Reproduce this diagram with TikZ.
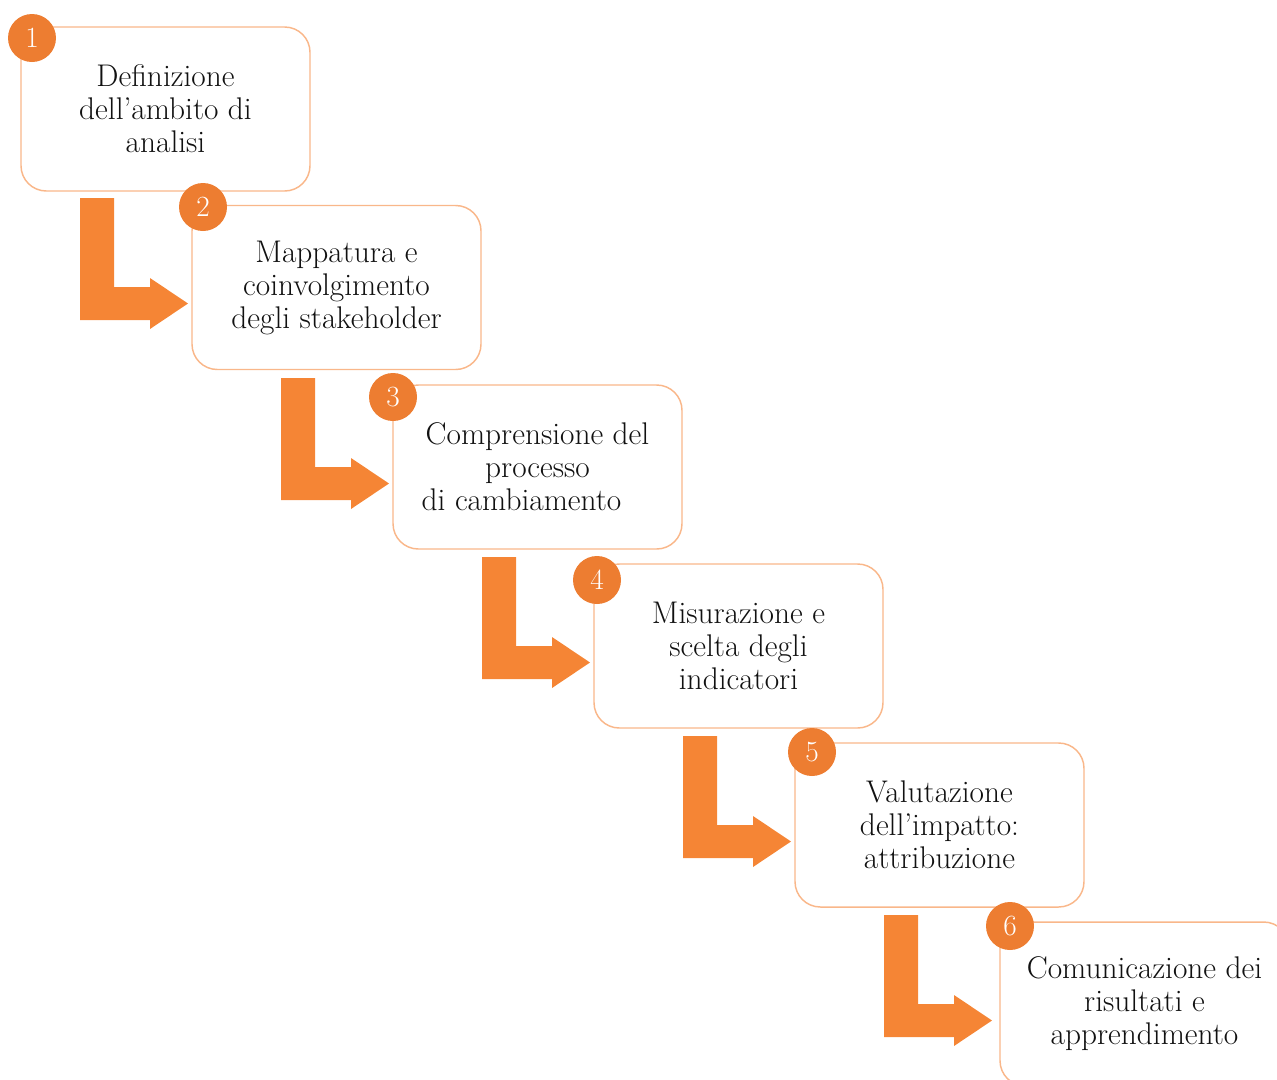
\documentclass[tikz,border=0pt]{standalone}
\usepackage{fontspec}
\definecolor{badge}{HTML}{ED7D31}
\definecolor{arrowc}{HTML}{F58535}
\definecolor{boxline}{HTML}{F9B78A}
\definecolor{txt}{HTML}{111111}
\tikzset{bentarrow/.pic={\fill[arrowc] (0,0) -- (34,0) -- (34,89) -- (70,89) -- (70,80) -- (108,105.5) -- (70,131) -- (70,122) -- (0,122) -- cycle;}}
\begin{document}
\begin{tikzpicture}[x=0.75pt,y=-0.75pt,
 stepbox/.style={draw=boxline, line width=1.1pt, rounded corners=19pt, minimum width=216.75pt, minimum height=123pt, align=center, font=\fontsize{23.5}{24.75}\selectfont, text=txt, inner sep=0pt},
 badgec/.style={circle, fill=badge, minimum size=36pt, inner sep=0pt, text=white, font=\fontsize{22}{22}\selectfont}]
\useasboundingbox (0,0) rectangle (1277,1079);
\clip (0,0) rectangle (1277,1079);
\node[stepbox] (b1) at (165.5,109) {Definizione\\dell’ambito di\\analisi};
\node[stepbox] (b2) at (336.5,287.5) {Mappatura e\\coinvolgimento\\degli stakeholder};
\node[stepbox] (b3) at (537.5,467) {Comprensione del\\processo\\di cambiamento\hspace*{24pt}};
\node[stepbox] (b4) at (738.5,646) {Misurazione e\\scelta degli\\indicatori};
\node[stepbox] (b5) at (939.5,825) {Valutazione\\dell’impatto:\\attribuzione};
\node[stepbox] (b6) at (1144.5,1004) {Comunicazione dei\\risultati e\\apprendimento};
\node[badgec] (n1) at (32,38) {1};
\node[badgec] (n2) at (203,207) {2};
\node[badgec] (n3) at (393,397) {3};
\node[badgec] (n4) at (597,580) {4};
\node[badgec] (n5) at (812,752) {5};
\node[badgec] (n6) at (1010,926) {6};
\pic (a1) at (80,198) {bentarrow};
\pic (a2) at (281,378) {bentarrow};
\pic (a3) at (482,557) {bentarrow};
\pic (a4) at (683,736) {bentarrow};
\pic (a5) at (884,915) {bentarrow};
\end{tikzpicture}
\end{document}
